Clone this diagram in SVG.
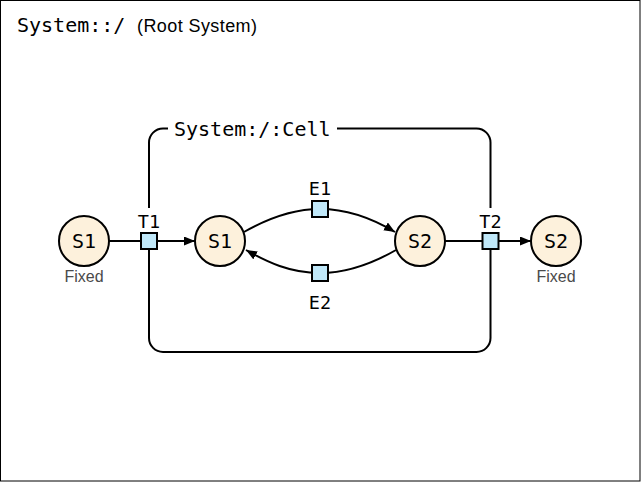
<svg xmlns="http://www.w3.org/2000/svg" width="641" height="482" viewBox="0 0 641 482">
<defs>
<marker id="arrow" markerUnits="userSpaceOnUse" markerWidth="12" markerHeight="10" refX="11" refY="4.5" orient="auto">
<path d="M0,0 L11,4.5 L0,9 z" fill="#000"/>
</marker>
<style>
.mono{font-family:"DejaVu Sans Mono","Liberation Mono",monospace;fill:#000}
.sans{font-family:"Liberation Sans",Arial,sans-serif}
.state{fill:#FDF1DC;stroke:#000;stroke-width:2}
.port{fill:#C0E8F9;stroke:#000;stroke-width:2}
.edge{fill:none;stroke:#000;stroke-width:2}
.bg{fill:#fff;stroke:none}
.lbl{font-family:"DejaVu Sans Mono","Liberation Mono",monospace;font-size:18.5px;text-anchor:middle}
.slbl{font-family:"DejaVu Sans Mono","Liberation Mono",monospace;font-size:20px;text-anchor:middle}
.fixed{font-family:"Liberation Sans",Arial,sans-serif;font-size:16px;fill:#4a4a4a;text-anchor:middle}
</style>
</defs>
<rect x="0.5" y="0.5" width="639.5" height="480.5" fill="#fff" stroke="#000" stroke-width="1"/>
<g id="root-title">
<text class="mono" x="17" y="32" font-size="20">System::/</text>
<text class="sans" x="137" y="32" font-size="18" textLength="120" fill="#000">(Root System)</text>
</g>
<g id="cell">
<path class="edge" d="M168,128.5 L163,128.5 A14,14 0 0 0 149,142.5 L149,338 A14,14 0 0 0 163,352 L476.5,352 A14,14 0 0 0 490.5,338 L490.5,142.5 A14,14 0 0 0 476.5,128.5 L337,128.5"/>
<text class="mono" x="174" y="136" font-size="20">System:/:Cell</text>
</g>
<g id="connectors">
<line class="edge" x1="109" y1="241" x2="141" y2="241"/>
<line class="edge" x1="157" y1="241" x2="195" y2="241" marker-end="url(#arrow)"/>
<path class="edge" d="M244,232 C265,220 290,209 320,209 C350,209 375,220 395,232" marker-end="url(#arrow)"/>
<path class="edge" d="M396,250 C375,262 350,273 320,273 C290,273 267,262 246,250" marker-end="url(#arrow)"/>
<line class="edge" x1="445" y1="241" x2="482" y2="241"/>
<line class="edge" x1="498" y1="241" x2="531" y2="241" marker-end="url(#arrow)"/>
</g>
<g id="S1-fixed">
<circle class="state" cx="84" cy="241" r="25"/>
<text class="slbl" x="84" y="248">S1</text>
<text class="fixed" x="84" y="282">Fixed</text>
</g>
<g id="T1">
<rect class="bg" x="137" y="208" width="24" height="24"/>
<rect class="port" x="141" y="233" width="16" height="16"/>
<text class="lbl" x="149" y="228">T1</text>
</g>
<g id="S1">
<circle class="state" cx="220" cy="241" r="25"/>
<text class="slbl" x="220" y="248">S1</text>
</g>
<g id="E1">
<rect class="port" x="312" y="201" width="16" height="16"/>
<text class="lbl" x="320" y="195">E1</text>
</g>
<g id="E2">
<rect class="port" x="312" y="265" width="16" height="16"/>
<text class="lbl" x="320" y="309">E2</text>
</g>
<g id="S2">
<circle class="state" cx="420" cy="241" r="25"/>
<text class="slbl" x="420" y="248">S2</text>
</g>
<g id="T2">
<rect class="bg" x="478.5" y="208" width="24" height="24"/>
<rect class="port" x="482.5" y="233" width="16" height="16"/>
<text class="lbl" x="490.5" y="228">T2</text>
</g>
<g id="S2-fixed">
<circle class="state" cx="556" cy="241" r="25"/>
<text class="slbl" x="556" y="248">S2</text>
<text class="fixed" x="556" y="282">Fixed</text>
</g>
</svg>
